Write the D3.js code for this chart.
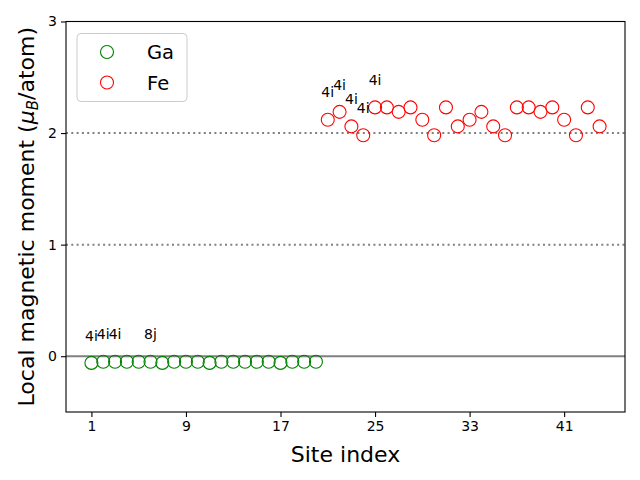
<!DOCTYPE html>
<html>
<head>
<meta charset="utf-8">
<script src="https://cdn.jsdelivr.net/npm/d3@7"></script>
<style>
  body { margin: 0; background: #fff; }
  text { font-family: "DejaVu Sans", sans-serif; }
</style>
</head>
<body>
<div id="chart"></div>
<script>
// site data
var gaSites = [1, 2, 3, 4, 5, 6, 7, 8, 9, 10, 11, 12, 13, 14, 15, 16, 17, 18, 19, 20];
var gaMoments = [-0.06, -0.05, -0.05, -0.05, -0.05, -0.05, -0.06, -0.05, -0.05, -0.05,
                 -0.06, -0.05, -0.05, -0.05, -0.05, -0.05, -0.06, -0.05, -0.05, -0.05];
var feSites = [21, 22, 23, 24, 25, 26, 27, 28, 29, 30, 31, 32, 33, 34, 35, 36, 37, 38, 39, 40, 41, 42, 43, 44];
var feMoments = [2.12, 2.19, 2.06, 1.98, 2.23, 2.23, 2.19, 2.23, 2.12, 1.98, 2.23, 2.06,
                 2.12, 2.19, 2.06, 1.98, 2.23, 2.23, 2.19, 2.23, 2.12, 1.98, 2.23, 2.06];
// wyckoff labels shown for a few sites
var labelSites = [1, 2, 3, 6, 21, 22, 23, 24, 25];
var labelTexts = ["4i", "4i", "4i", "8j", "4i", "4i", "4i", "4i", "4i"];
var xTicks = [1, 9, 17, 25, 33, 41];
var yTicks = [0, 1, 2, 3];
var guideLines = [1, 2];

var width = 640, height = 480;
var margin = {top: 21.5, right: 15, bottom: 68, left: 66};

var svg = d3.select("#chart")
    .append("svg")
    .attr("width", width)
    .attr("height", height);

var x = d3.scaleLinear()
    .domain([-1.15, 46.15])
    .range([margin.left, width - margin.right]);
var y = d3.scaleLinear()
    .domain([-0.5, 3])
    .range([height - margin.bottom, margin.top]);

// dotted guides and zero line
svg.append("g")
    .selectAll("line")
    .data(guideLines)
    .enter().append("line")
    .attr("x1", x.range()[0])
    .attr("x2", x.range()[1])
    .attr("y1", function (d) { return y(d); })
    .attr("y2", function (d) { return y(d); })
    .style("stroke", "gray")
    .style("stroke-width", 2)
    .style("stroke-dasharray", "2,3.3");

svg.append("line")
    .attr("x1", x.range()[0])
    .attr("x2", x.range()[1])
    .attr("y1", y(0))
    .attr("y2", y(0))
    .style("stroke", "gray")
    .style("stroke-width", 2);

function allMoment(site) {
    var i = gaSites.indexOf(site);
    if (i !== -1) return gaMoments[i];
    return feMoments[feSites.indexOf(site)];
}

// points
svg.append("g")
    .selectAll("circle")
    .data(gaSites)
    .enter().append("circle")
    .attr("cx", function (d) { return x(d); })
    .attr("cy", function (d, i) { return y(gaMoments[i]); })
    .attr("r", 6.5)
    .style("fill", "none")
    .style("stroke", "green")
    .style("stroke-width", 1.1);

svg.append("g")
    .selectAll("circle")
    .data(feSites)
    .enter().append("circle")
    .attr("cx", function (d) { return x(d); })
    .attr("cy", function (d, i) { return y(feMoments[i]); })
    .attr("r", 6.5)
    .style("fill", "none")
    .style("stroke", "red")
    .style("stroke-width", 1.1);

// site labels
svg.append("g")
    .selectAll("text")
    .data(labelSites)
    .enter().append("text")
    .attr("x", function (d) { return x(d); })
    .attr("y", function (d) { return y(allMoment(d) + 0.2); })
    .attr("text-anchor", "middle")
    .style("font-size", "14px")
    .text(function (d, i) { return labelTexts[i]; });

// axes
svg.append("g")
    .attr("transform", "translate(0," + (height - margin.bottom) + ")")
    .call(d3.axisBottom(x).tickValues(xTicks).tickSize(5).tickPadding(4))
    .call(function (g) { g.select(".domain").remove(); })
    .selectAll("text")
    .style("font-size", "14px")
    .style("font-family", "DejaVu Sans");

svg.append("g")
    .attr("transform", "translate(" + margin.left + ",0)")
    .call(d3.axisLeft(y).tickValues(yTicks).tickFormat(d3.format("d")).tickSize(5).tickPadding(4))
    .call(function (g) { g.select(".domain").remove(); })
    .selectAll("text")
    .style("font-size", "14px")
    .style("font-family", "DejaVu Sans");

svg.selectAll(".tick line").style("stroke-width", 1.1);

svg.append("rect")
    .attr("x", margin.left)
    .attr("y", margin.top)
    .attr("width", width - margin.left - margin.right)
    .attr("height", height - margin.top - margin.bottom)
    .style("fill", "none")
    .style("stroke", "black")
    .style("stroke-width", 1.1);

// axis labels
svg.append("text")
    .attr("x", (margin.left + width - margin.right) / 2)
    .attr("y", 462)
    .attr("text-anchor", "middle")
    .style("font-size", "22px")
    .text("Site index");

var ylab = svg.append("text")
    .attr("transform", "translate(34," + ((margin.top + height - margin.bottom) / 2) + ") rotate(-90)")
    .attr("text-anchor", "middle")
    .style("font-size", "22px");
ylab.append("tspan").text("Local magnetic moment (");
ylab.append("tspan").style("font-style", "italic").text("μ");
ylab.append("tspan").style("font-style", "italic").style("font-size", "15px").attr("dy", 4).text("B");
ylab.append("tspan").attr("dy", -4).text("/atom)");

// legend
var legend = svg.append("g");
legend.append("rect")
    .attr("x", 77)
    .attr("y", 33.5)
    .attr("width", 110)
    .attr("height", 68)
    .attr("rx", 4)
    .style("fill", "white")
    .style("fill-opacity", 0.8)
    .style("stroke", "#cccccc")
    .style("stroke-width", 1);

var legendNames = ["Ga", "Fe"];
var legendColors = ["green", "red"];
legend.selectAll("circle")
    .data(legendNames)
    .enter().append("circle")
    .attr("cx", 107)
    .attr("cy", function (d, i) { return 52 + i * 30.5; })
    .attr("r", 6.5)
    .style("fill", "none")
    .style("stroke", function (d, i) { return legendColors[i]; })
    .style("stroke-width", 1.1);
legend.selectAll("text")
    .data(legendNames)
    .enter().append("text")
    .attr("x", 147)
    .attr("y", function (d, i) { return 59 + i * 30.5; })
    .style("font-size", "19.5px")
    .text(function (d) { return d; });
</script>
</body>
</html>
